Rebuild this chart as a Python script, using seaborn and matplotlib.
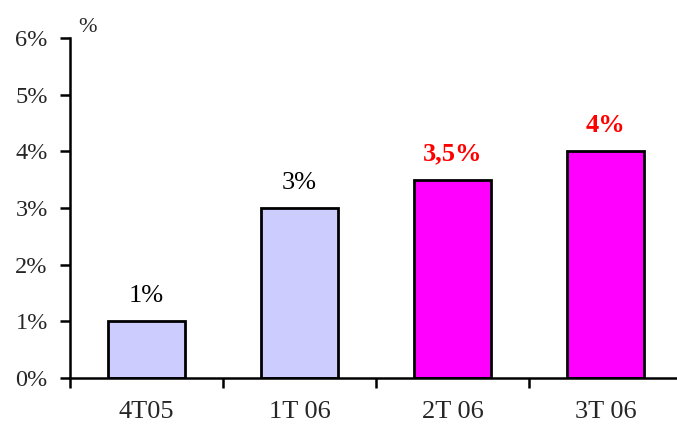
import numpy as np
import pandas as pd
import matplotlib.pyplot as plt
import seaborn as sns

# Data
quarters = ["4T05", "1T 06", "2T 06", "3T 06"]
growth = [1.0, 3.0, 3.5, 4.0]
bar_labels = ["1%", "3%", "3,5%", "4%"]
bar_colors = ["#CCCCFF", "#CCCCFF", "#FF00FF", "#FF00FF"]
label_colors = ["black", "black", "red", "red"]
label_weights = ["normal", "normal", "bold", "bold"]

sns.set_style("white")
plt.rcParams["font.family"] = ["Liberation Serif", "DejaVu Serif"]

df = pd.DataFrame({"Quarter": quarters, "Growth": growth})

fig = plt.figure(figsize=(6.77, 4.26), dpi=100)
ax = fig.add_axes([70 / 677, 1 - 378 / 426, 612 / 677, 340 / 426])

sns.barplot(data=df, x="Quarter", y="Growth", hue="Quarter", palette=bar_colors,
            saturation=1, width=0.5, edgecolor="black", linewidth=2,
            legend=False, ax=ax)

for i, (v, txt) in enumerate(zip(growth, bar_labels)):
    ax.text(i, v + 0.25, txt, ha="center", va="bottom", fontsize=19,
            color=label_colors[i], fontweight=label_weights[i])

ax.set_xlim(-0.5, 3.5)
ax.set_ylim(0, 6)
ax.set_yticks(range(0, 7))
ax.set_yticklabels([f"{t}%" for t in range(0, 7)], fontsize=17.5)
ax.set_xlabel("")
ax.set_ylabel("")
ax.tick_params(axis="x", which="major", bottom=False, labelsize=19, pad=13)
ax.set_xticks(np.arange(-0.5, 4.0, 1.0), minor=True)
ax.tick_params(axis="x", which="minor", bottom=True, length=7, width=1.8,
               direction="out", color="black")
ax.tick_params(axis="y", left=True, length=7, width=1.8, direction="out",
               color="black", pad=9)

for side in ["top", "right"]:
    ax.spines[side].set_visible(False)
for side in ["left", "bottom"]:
    ax.spines[side].set_linewidth(1.8)
    ax.spines[side].set_color("black")

fig.text(88 / 677, 1 - 27 / 426, "%", ha="center", va="center", fontsize=16)

fig.savefig("out.png", dpi=100)
